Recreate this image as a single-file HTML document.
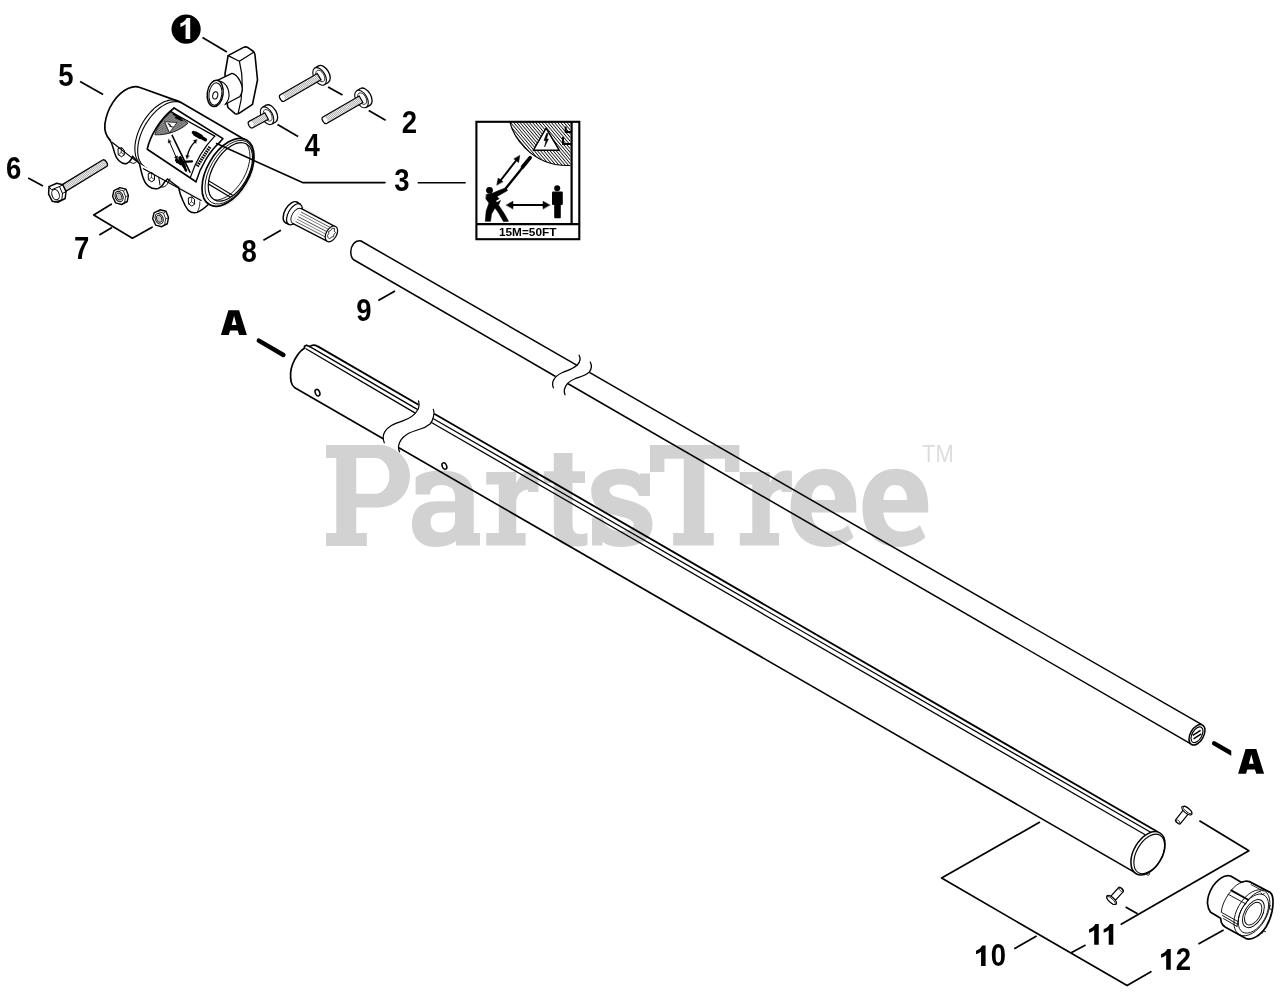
<!DOCTYPE html>
<html><head><meta charset="utf-8"><title>Parts Diagram</title><style>html,body{margin:0;padding:0;background:#fff;}body{width:1280px;height:994px;overflow:hidden;font-family:"Liberation Sans",sans-serif;}svg{display:block;will-change:transform;}</style></head><body><svg width="1280" height="994" viewBox="0 0 1280 994"><g fill="#d2d2d2"><path fill-rule="evenodd" d="M326,445 H379 A31,31.25 0 0 1 379,507.5 H356.25 V533.1 H366.9 V546 H326 V533.1 H336.25 V458.1 H326 Z M356.25,458.1 H375 A14.4,17.8 0 0 1 375,493.75 H356.25 Z"/><path fill-rule="evenodd" d="M415.6,477.5 C421,473 430,470.6 441,470.6 C462,470.6 473.75,480 473.75,497 V533 H480 V545.6 H456 V541 C451,545 444,546.9 435,546.9 C420,546.9 411.9,537 411.9,524 C411.9,509 421,501.25 437,501.25 H455 V497 C455,489 450,485 441,485 C434,485 430,489 430,494.4 H415.6 Z M455,512.5 H441 C434,512.5 430.6,516 430.6,522.5 C430.6,529 435,532.5 441,532.5 C449,532.5 455,528 455,521 Z"/><path transform="translate(0,0)" d="M486.25,471.9 H516.25 V483 C520,475 526,470.5 533,470.5 C535.5,470.5 537,470.8 538.4,471.3 V492 H528 V489.5 C521,490 516.25,495 516.25,503 V533 H525.6 V545.6 H486.25 V533 H498.75 V484.4 H486.25 Z"/><path d="M553.75,453.1 H572.5 V471.25 H585 V483.1 H572.5 V524 C572.5,531 575,534 580,534 C583,534 585,533.75 587.5,533 V545 C584,546 580,546.6 575,546.6 C561,546.6 553.75,540 553.75,527 V483.1 H543.75 V471.25 H553.75 Z"/><path d="M650,473.5 V496 H639 C637,489 631,484.5 621,484.5 C613,484.5 609.5,487 609.5,490.5 C609.5,494 613,496.5 623,499 C642,503.5 652.5,509 652.5,524.5 C652.5,539 640,546.9 621,546.9 C612,546.9 606,545 602.5,541.5 V545.6 H592 V517.5 H602.5 C604,525 610,531 620,531 C629,531 633.75,528.5 633.75,524.5 C633.75,520.5 629,518.5 618,516 C600,512 591.25,505 591.25,491 C591.25,477 603,468.75 620,468.75 C629,468.75 636,471 640,475 V473.5 Z"/><path d="M650,445 H739.4 V471.9 H725 V458.75 H704.4 V533.1 H713.75 V545.6 H673.1 V533.1 H683.75 V458.75 H664.4 V471.9 H650 Z"/><path transform="translate(253.5,0)" d="M486.25,471.9 H516.25 V483 C520,475 526,470.5 533,470.5 C535.5,470.5 537,470.8 538.4,471.3 V492 H528 V489.5 C521,490 516.25,495 516.25,503 V533 H525.6 V545.6 H486.25 V533 H498.75 V484.4 H486.25 Z"/><path transform="translate(0,0)" fill-rule="evenodd" d="M856.25,512.5 H811.5 C812.5,524 819,531.5 830,531.5 C838,531.5 844,529 848,525 L853.5,537 C848,543 838,546.9 826,546.9 C804,546.9 790.6,532 790.6,508 C790.6,484 804,468.75 824,468.75 C844,468.75 856.25,483 856.25,505 Z M811.5,500 H835 C835,491 831,485 823,485 C816,485 812,491 811.5,500 Z"/><path transform="translate(71.9,0)" fill-rule="evenodd" d="M856.25,512.5 H811.5 C812.5,524 819,531.5 830,531.5 C838,531.5 844,529 848,525 L853.5,537 C848,543 838,546.9 826,546.9 C804,546.9 790.6,532 790.6,508 C790.6,484 804,468.75 824,468.75 C844,468.75 856.25,483 856.25,505 Z M811.5,500 H835 C835,491 831,485 823,485 C816,485 812,491 811.5,500 Z"/></g>
<text transform="translate(922,462) scale(0.93,1)" font-size="23.6" fill="#dddddd" font-family="Liberation Sans, sans-serif">TM</text>
<line x1="361" y1="241" x2="577.5" y2="365.531" stroke="#000" stroke-width="1.5" stroke-linecap="butt"/>
<line x1="589.4" y1="372.376" x2="1201.9" y2="724.686" stroke="#000" stroke-width="1.5" stroke-linecap="butt"/>
<line x1="355" y1="260.5" x2="555.6" y2="376.507" stroke="#000" stroke-width="1.5" stroke-linecap="butt"/>
<line x1="568.1" y1="383.736" x2="1191.7" y2="744.364" stroke="#000" stroke-width="1.5" stroke-linecap="butt"/>
<path d="M361,241 C355,239.5 350.5,246 350.8,252.5 C351,257 352.5,259.5 355,260.5" fill="none" stroke="#000" stroke-width="1.5" stroke-linejoin="round" stroke-linecap="round" />
<path d="M579.1,355.3 C581,359 580,362 577.5,364.7 C573,369 567,370.5 562.5,372.5 C558,374.5 554,378 552.8,381.9 C552.3,384 552.6,386 553.4,387.8" fill="none" stroke="#000" stroke-width="1.3" stroke-linejoin="round" stroke-linecap="round" />
<path d="M590.3,362.2 C592.3,366 591.5,369 589.4,371.9 C585,376.2 579,377.2 575,378.75 C571,380.2 566,383.5 564.4,389.4 C564,391.5 564.3,393 565,394.7" fill="none" stroke="#000" stroke-width="1.3" stroke-linejoin="round" stroke-linecap="round" />
<ellipse cx="1197" cy="734.8" rx="11.2" ry="6.6" transform="rotate(-60 1197 734.8)" fill="#fff" stroke="#000" stroke-width="1.5" />
<ellipse cx="1197" cy="734.8" rx="8.6" ry="4.8" transform="rotate(-60 1197 734.8)" fill="none" stroke="#000" stroke-width="1.2" />
<line x1="1192.8" y1="735.3" x2="1200.6" y2="730.4" stroke="#000" stroke-width="1.5" stroke-linecap="butt"/>
<line x1="1193.5" y1="738.8" x2="1201.3" y2="733.9" stroke="#000" stroke-width="1.5" stroke-linecap="butt"/>
<line x1="317.8" y1="346.4" x2="418.5" y2="404.655" stroke="#000" stroke-width="1.8" stroke-linecap="butt"/>
<line x1="309" y1="346.126" x2="417.3" y2="409.372" stroke="#000" stroke-width="1.25" stroke-linecap="butt"/>
<line x1="305.5" y1="348.494" x2="414.9" y2="412.895" stroke="#000" stroke-width="1.25" stroke-linecap="butt"/>
<line x1="294.4" y1="387.5" x2="383.2" y2="438.738" stroke="#000" stroke-width="1.6" stroke-linecap="butt"/>
<line x1="434.2" y1="413.737" x2="1157.5" y2="831.766" stroke="#000" stroke-width="1.8" stroke-linecap="butt"/>
<line x1="433" y1="418.424" x2="1152" y2="833" stroke="#000" stroke-width="1.25" stroke-linecap="butt"/>
<line x1="431" y1="422.196" x2="1145.2" y2="834.789" stroke="#000" stroke-width="1.25" stroke-linecap="butt"/>
<line x1="398.9" y1="447.796" x2="1136.4" y2="873.334" stroke="#000" stroke-width="1.6" stroke-linecap="butt"/>
<path d="M317.8,346.4 C315.5,345 312,344.6 309.6,346.6 L306.5,345.2 L304.5,346.2 L304.5,348 C300,351 295,358 292.4,364.8 C290.5,370 290,376 291.2,382.1 C291.8,384.5 292.8,386 294.4,387.3" fill="none" stroke="#000" stroke-width="1.7" stroke-linejoin="round" stroke-linecap="round" />
<path d="M418.5,400.8 C419.5,404.5 419,408 417.3,410.5 C414,416 409,418.5 404,420.4 C399,422.2 394,424 391.4,425.5 C386,429 383.3,432.5 383.2,437 C383.2,439.5 383.6,441.5 384.3,442.8" fill="none" stroke="#000" stroke-width="1.2" stroke-linejoin="round" stroke-linecap="round" />
<path d="M433.4,409.4 C434.3,412 434.2,414.5 433.4,417 C432.5,420.5 431.5,422.5 430,424 C426.5,427 422.5,428.5 418.9,429.5 C414,431 410,432.5 407.1,434.2 C402,437.5 399,441.5 398.5,446.5 C398.4,448.8 398.8,450.5 399.6,451.8" fill="none" stroke="#000" stroke-width="1.2" stroke-linejoin="round" stroke-linecap="round" />
<ellipse cx="317.5" cy="392.7" rx="3.4" ry="2.2" transform="rotate(68 317.5 392.7)" fill="none" stroke="#000" stroke-width="1.5" />
<ellipse cx="444.4" cy="466" rx="3.4" ry="2.2" transform="rotate(68 444.4 466)" fill="none" stroke="#000" stroke-width="1.5" />
<ellipse cx="1148" cy="853.3" rx="23.6" ry="14.3" transform="rotate(-60 1148 853.3)" fill="#fff" stroke="#000" stroke-width="1.5" />
<ellipse cx="1149.2" cy="853.9" rx="21.6" ry="12.6" transform="rotate(-60 1149.2 853.9)" fill="none" stroke="#000" stroke-width="1.1" />
<path d="M1132.0,869.0 L1134.3,872.6" fill="none" stroke="#000" stroke-width="1" stroke-linejoin="round" stroke-linecap="round" />
<path d="M1146.5,874.3 C1147.5,876 1149.5,875.5 1149.6,873.6" fill="none" stroke="#000" stroke-width="1" stroke-linejoin="round" stroke-linecap="round" />
<path transform="translate(0,0)" fill-rule="evenodd" d="M228.4,310.3 H239.1 L246.9,335 H239.1 L237.75,330.6 H230.1 L228.75,335 H220.9 Z M231.7,325 H236.5 L234.1,315.8 Z"/>
<path transform="translate(1017.2,438.8)" fill-rule="evenodd" d="M228.4,310.3 H239.1 L246.9,335 H239.1 L237.75,330.6 H230.1 L228.75,335 H220.9 Z M231.7,325 H236.5 L234.1,315.8 Z"/>
<line x1="258.8" y1="340.6" x2="283.4" y2="355" stroke="#000" stroke-width="4.4" stroke-linecap="round"/>
<defs><clipPath id="dclip"><rect x="1200" y="730" width="31.25" height="40"/></clipPath></defs>
<line x1="1214.2" y1="743.4" x2="1234" y2="754.8" stroke="#000" stroke-width="4.4" stroke-linecap="round" clip-path="url(#dclip)"/>
<circle cx="186.1" cy="29.1" r="14.6" fill="#000"/>
<path d="M190.20,18.05 L190.20,39.00 L185.56,39.00 L185.56,24.10 C184.02,25.60 182.27,26.50 180.41,26.90 L180.41,23.30 C183.30,22.40 185.46,20.50 186.70,18.05 Z" fill="#fff"/>
<line x1="202.5" y1="37.5" x2="226.9" y2="51.9" stroke="#000" stroke-width="1.7" stroke-linecap="butt"/>
<text transform="translate(66,86.2) scale(0.89,1)" font-size="30.9" font-weight="bold" text-anchor="middle" font-family="Liberation Sans, sans-serif">5</text>
<line x1="80.1" y1="81.5" x2="103.1" y2="94.5" stroke="#000" stroke-width="1.7" stroke-linecap="butt"/>
<text transform="translate(409.4,132.6) scale(0.89,1)" font-size="30.9" font-weight="bold" text-anchor="middle" font-family="Liberation Sans, sans-serif">2</text>
<line x1="328.1" y1="86.9" x2="342.5" y2="95" stroke="#000" stroke-width="1.7" stroke-linecap="butt"/>
<line x1="368.75" y1="110.6" x2="385.6" y2="120.25" stroke="#000" stroke-width="1.7" stroke-linecap="butt"/>
<text transform="translate(312.2,155.7) scale(0.89,1)" font-size="30.9" font-weight="bold" text-anchor="middle" font-family="Liberation Sans, sans-serif">4</text>
<line x1="277.5" y1="124.6" x2="298.1" y2="136.5" stroke="#000" stroke-width="1.7" stroke-linecap="butt"/>
<text transform="translate(401.85,191) scale(0.89,1)" font-size="30.9" font-weight="bold" text-anchor="middle" font-family="Liberation Sans, sans-serif">3</text>
<line x1="417.7" y1="182.7" x2="465.7" y2="182.7" stroke="#000" stroke-width="1.6" stroke-linecap="butt"/>
<text transform="translate(13.7,178.75) scale(0.89,1)" font-size="30.9" font-weight="bold" text-anchor="middle" font-family="Liberation Sans, sans-serif">6</text>
<line x1="28.2" y1="177.9" x2="43" y2="186" stroke="#000" stroke-width="1.7" stroke-linecap="butt"/>
<text transform="translate(81.65,259.4) scale(0.89,1)" font-size="30.9" font-weight="bold" text-anchor="middle" font-family="Liberation Sans, sans-serif">7</text>
<path d="M111.3,204.2 L93.7,214.9 L132.4,238.2 L152.1,227.2" fill="none" stroke="#000" stroke-width="1.7" stroke-linejoin="round" stroke-linecap="round" />
<line x1="112" y1="227.6" x2="99.3" y2="234.9" stroke="#000" stroke-width="1.7" stroke-linecap="butt"/>
<text transform="translate(249.25,262.2) scale(0.89,1)" font-size="30.9" font-weight="bold" text-anchor="middle" font-family="Liberation Sans, sans-serif">8</text>
<line x1="263.4" y1="240.2" x2="280.9" y2="230.3" stroke="#000" stroke-width="1.7" stroke-linecap="butt"/>
<text transform="translate(363.85,320.8) scale(0.89,1)" font-size="30.9" font-weight="bold" text-anchor="middle" font-family="Liberation Sans, sans-serif">9</text>
<line x1="378.3" y1="300.6" x2="395" y2="290.9" stroke="#000" stroke-width="1.7" stroke-linecap="butt"/>
<path d="M985.60,945.60 L985.60,966.10 L981.06,966.10 L981.06,951.52 C979.55,952.99 977.84,953.87 976.03,954.26 L976.03,950.74 C978.85,949.86 980.96,948.00 982.17,945.60 Z" fill="#000"/>
<text transform="translate(998.3,966.3) scale(0.89,1)" font-size="30.9" font-weight="bold" text-anchor="middle" font-family="Liberation Sans, sans-serif">0</text>
<path d="M1039.5,822.3 L941.6,878.1 L1127.1,985.6 L1150.9,971.7" fill="none" stroke="#000" stroke-width="1.7" stroke-linejoin="round" stroke-linecap="round" />
<line x1="1014.3" y1="948.8" x2="1036.6" y2="936" stroke="#000" stroke-width="1.7" stroke-linecap="butt"/>
<path d="M1098.75,924.00 L1098.75,944.70 L1094.17,944.70 L1094.17,929.98 C1092.64,931.46 1090.91,932.35 1089.08,932.74 L1089.08,929.19 C1091.93,928.30 1094.07,926.42 1095.29,924.00 Z" fill="#000"/>
<path d="M1113.30,924.00 L1113.30,944.70 L1108.72,944.70 L1108.72,929.98 C1107.19,931.46 1105.46,932.35 1103.63,932.74 L1103.63,929.19 C1106.48,928.30 1108.62,926.42 1109.84,924.00 Z" fill="#000"/>
<line x1="1070.7" y1="953" x2="1085.6" y2="945" stroke="#000" stroke-width="1.7" stroke-linecap="butt"/>
<path d="M1199.9,821.1 L1248.9,850.8 L1121.2,924.2" fill="none" stroke="#000" stroke-width="1.7" stroke-linejoin="round" stroke-linecap="round" />
<line x1="1125.6" y1="907" x2="1137.5" y2="913.8" stroke="#000" stroke-width="1.7" stroke-linecap="butt"/>
<path d="M1170.75,949.00 L1170.75,969.70 L1166.17,969.70 L1166.17,954.98 C1164.64,956.46 1162.91,957.35 1161.08,957.74 L1161.08,954.19 C1163.93,953.30 1166.07,951.42 1167.29,949.00 Z" fill="#000"/>
<text transform="translate(1183.3,969.7) scale(0.89,1)" font-size="30.9" font-weight="bold" text-anchor="middle" font-family="Liberation Sans, sans-serif">2</text>
<line x1="1198.4" y1="944.1" x2="1223.6" y2="930.1" stroke="#000" stroke-width="1.7" stroke-linecap="butt"/>
<defs><pattern id="hat" width="2.4" height="2.4" patternUnits="userSpaceOnUse" patternTransform="rotate(-40)"><rect width="2.4" height="2.4" fill="#fff"/><rect width="0.85" height="2.4" fill="#111"/></pattern><clipPath id="cb3"><rect x="476.4" y="121.8" width="94" height="102"/></clipPath></defs>
<rect x="475.4" y="120.8" width="104.9" height="119.4" fill="#fff" stroke="none"/>
<circle cx="567.2" cy="106.1" r="59.4" fill="url(#hat)" stroke="#000" stroke-width="1.2" clip-path="url(#cb3)"/>
<rect x="476.4" y="121.8" width="102.9" height="117.4" fill="none" stroke="#000" stroke-width="2.1"/>
<line x1="571.6" y1="121" x2="571.6" y2="224" stroke="#000" stroke-width="2.2" stroke-linecap="butt"/>
<line x1="476" y1="224.2" x2="580" y2="224.2" stroke="#000" stroke-width="2.2" stroke-linecap="butt"/>
<text x="527.7" y="235.6" font-size="10.8" font-weight="bold" text-anchor="middle" textLength="57.5" lengthAdjust="spacingAndGlyphs" font-family="Liberation Sans, sans-serif">15M=50FT</text>
<path d="M546.1,128.2 L533.4,150.2 L559.2,150.2 Z" fill="#fff" stroke="#000" stroke-width="1.5" stroke-linejoin="round" stroke-linecap="round" />
<path d="M546.6,133.5 L544,140.5 L546,140.5 L544.6,147 L548.4,139 L546.4,139 L548.2,133.5 Z" fill="#000" stroke="#000" stroke-width="0.6" stroke-linejoin="round" stroke-linecap="round" />
<path d="M565.7,127.6 V132 H570.4 M563,137.8 V143.9 H570.4" fill="none" stroke="#000" stroke-width="2" stroke-linejoin="round" stroke-linecap="round" />
<line x1="504.5" y1="190" x2="529.8" y2="158.5" stroke="#000" stroke-width="2.4" stroke-linecap="round"/>
<line x1="522.5" y1="167" x2="530.2" y2="157.6" stroke="#000" stroke-width="3.6" stroke-linecap="round"/>
<line x1="500.5" y1="180.5" x2="516.5" y2="160" stroke="#000" stroke-width="2" stroke-linecap="butt"/>
<path d="M519.8,155.6 L518.6,162.6 L514,159 Z" fill="#000" stroke="#000" stroke-width="0.5" stroke-linejoin="round" stroke-linecap="round" />
<path d="M496.8,184.9 L498.2,178 L502.8,181.6 Z" fill="#000" stroke="#000" stroke-width="0.5" stroke-linejoin="round" stroke-linecap="round" />
<line x1="510" y1="205" x2="546" y2="205" stroke="#000" stroke-width="2" stroke-linecap="butt"/>
<path d="M506.3,205 L513,201.2 V208.8 Z" fill="#000" stroke="#000" stroke-width="0.5" stroke-linejoin="round" stroke-linecap="round" />
<path d="M549.8,205 L543,201.2 V208.8 Z" fill="#000" stroke="#000" stroke-width="0.5" stroke-linejoin="round" stroke-linecap="round" />
<circle cx="557.2" cy="188.3" r="3.0" fill="#000"/>
<rect x="552" y="191.6" width="10.8" height="13.4" rx="1.2" fill="#000"/>
<rect x="554.2" y="200" width="6.6" height="18.2" rx="1" fill="#000"/>
<circle cx="489.5" cy="190.3" r="3.4" fill="#000"/>
<path d="M486.5,194.5 L493,193 L500,190 L506,187.8 L507.5,190.5 L497,196.5 L500.5,200.5 L498.5,205 L504.5,214 L508.5,221.3 L503.5,221.6 L498,212 L495,208 L491.5,214 L490.5,221.3 L485.3,221.3 L486.2,211 L489,203 L486,199 Z" fill="#000" stroke="#000" stroke-width="0.6" stroke-linejoin="round" stroke-linecap="round" />
<path d="M496.5,201.5 L500,199.5" stroke="#fff" stroke-width="1.6" fill="none"/>
<defs><pattern id="thr" width="1.55" height="4" patternUnits="userSpaceOnUse" patternTransform="rotate(-12)"><rect width="1.55" height="4" fill="#fff"/><rect width="0.42" height="4" fill="#505050"/></pattern></defs>
<ellipse cx="323.4" cy="74.2" rx="9.6" ry="5.6" transform="rotate(59.9863 323.4 74.2)" fill="#fff" stroke="#000" stroke-width="1.3" />
<path d="M324.392,84.7136 L328.202,82.5127 L318.598,65.8873 L314.788,68.0882 Z" fill="#fff" stroke="none"/>
<line x1="324.392" y1="84.7136" x2="328.202" y2="82.5127" stroke="#000" stroke-width="1.3" stroke-linecap="butt"/>
<line x1="314.788" y1="68.0882" x2="318.598" y2="65.8873" stroke="#000" stroke-width="1.3" stroke-linecap="butt"/>
<ellipse cx="319.59" cy="76.4009" rx="9.6" ry="5.6" transform="rotate(59.9863 319.59 76.4009)" fill="#fff" stroke="#000" stroke-width="1.1" />
<ellipse cx="320.283" cy="76.0007" rx="6.336" ry="3.696" transform="rotate(59.9863 320.283 76.0007)" fill="none" stroke="#000" stroke-width="0.7" />
<g transform="translate(282.2,98) rotate(-30.0137)">
<path d="M0,-3.7 H42.6802 V3.7 H0 A2.22,3.7 0 0 1 0,-3.7 Z" fill="url(#thr)" stroke="#000" stroke-width="1.2"/>
<ellipse cx="0.6" cy="0" rx="1.776" ry="2.9" fill="#fff" stroke="none"/>
</g>
<ellipse cx="365.3" cy="96.8" rx="9.6" ry="5.6" transform="rotate(59.9816 365.3 96.8)" fill="#fff" stroke="#000" stroke-width="1.3" />
<path d="M366.293,107.314 L370.103,105.112 L360.497,88.4877 L356.688,90.6889 Z" fill="#fff" stroke="none"/>
<line x1="366.293" y1="107.314" x2="370.103" y2="105.112" stroke="#000" stroke-width="1.3" stroke-linecap="butt"/>
<line x1="356.688" y1="90.6889" x2="360.497" y2="88.4877" stroke="#000" stroke-width="1.3" stroke-linecap="butt"/>
<ellipse cx="361.49" cy="99.0012" rx="9.6" ry="5.6" transform="rotate(59.9816 361.49 99.0012)" fill="#fff" stroke="#000" stroke-width="1.1" />
<ellipse cx="362.183" cy="98.601" rx="6.336" ry="3.696" transform="rotate(59.9816 362.183 98.601)" fill="none" stroke="#000" stroke-width="0.7" />
<g transform="translate(324.8,120.2) rotate(-30.0184)">
<path d="M0,-3.7 H41.874 V3.7 H0 A2.22,3.7 0 0 1 0,-3.7 Z" fill="url(#thr)" stroke="#000" stroke-width="1.2"/>
<ellipse cx="0.6" cy="0" rx="1.776" ry="2.9" fill="#fff" stroke="none"/>
</g>
<ellipse cx="270.9" cy="113.6" rx="9.6" ry="5.6" transform="rotate(61.1892 270.9 113.6)" fill="#fff" stroke="#000" stroke-width="1.3" />
<path d="M271.671,124.132 L275.526,122.012 L266.274,105.188 L262.418,107.309 Z" fill="#fff" stroke="none"/>
<line x1="271.671" y1="124.132" x2="275.526" y2="122.012" stroke="#000" stroke-width="1.3" stroke-linecap="butt"/>
<line x1="262.418" y1="107.309" x2="266.274" y2="105.188" stroke="#000" stroke-width="1.3" stroke-linecap="butt"/>
<ellipse cx="267.045" cy="115.72" rx="9.6" ry="5.6" transform="rotate(61.1892 267.045 115.72)" fill="#fff" stroke="#000" stroke-width="1.1" />
<ellipse cx="267.746" cy="115.335" rx="6.336" ry="3.696" transform="rotate(61.1892 267.746 115.335)" fill="none" stroke="#000" stroke-width="0.7" />
<g transform="translate(250.9,124.6) rotate(-28.8108)">
<path d="M0,-3.7 H17.9254 V3.7 H0 A2.22,3.7 0 0 1 0,-3.7 Z" fill="url(#thr)" stroke="#000" stroke-width="1.2"/>
<ellipse cx="0.6" cy="0" rx="1.776" ry="2.9" fill="#fff" stroke="none"/>
</g>
<g transform="translate(56.3,192.7) rotate(-31.3287)">
<path d="M6,-3.8 H56.5442 A2.28,3.8 0 0 1 56.5442,3.8 H6 Z" fill="url(#thr)" stroke="#000" stroke-width="1.3"/>
</g>
<path d="M49,186.6 L56.8,183.2 L62.8,184.8 L66,191.5 L65.2,198.5 L58.2,202.2 L52.2,201.2 L48.6,194.2 Z" fill="#fff" stroke="#000" stroke-width="1.5" stroke-linejoin="round" stroke-linecap="round" />
<path d="M62.8,184.8 L59.5,186.5 L51.5,189.8 L49,186.6 M59.5,186.5 L62.5,193.5 L61.8,199.8 L58.2,202.2 M61.8,199.8 L54.5,202 M66,191.5 L62.5,193.5" fill="none" stroke="#000" stroke-width="1" stroke-linejoin="round" stroke-linecap="round" />
<ellipse cx="55.6" cy="194.6" rx="5.3" ry="3.6" transform="rotate(70 55.6 194.6)" fill="none" stroke="#000" stroke-width="1" />
<g transform="translate(120.4,195.9)">
<path d="M-6.5,-5.2 L-0.5,-8.3 L5.5,-6.8 L8,-0.5 L6.8,5.8 L1.2,8.6 L-4.8,7 L-7.8,0.6 Z" fill="#fff" stroke="#000" stroke-width="1.4" stroke-linejoin="round"/>
<path d="M5.5,-6.8 L3,-5 L5.2,0.8 L4.2,6.2 L6.8,5.8 M5.2,0.8 L8,-0.5 M3,-5 L-2.5,-6.5 M4.2,6.2 L1.2,8.6" fill="none" stroke="#000" stroke-width="0.8"/>
<ellipse cx="-1.3" cy="0.6" rx="5.4" ry="3.9" transform="rotate(68 -1.3 0.6)" fill="#fff" stroke="#000" stroke-width="0.9"/>
<ellipse cx="-1.3" cy="0.6" rx="3.8" ry="2.6" transform="rotate(68 -1.3 0.6)" fill="#c8c8c8" stroke="#000" stroke-width="0.8"/>
</g>
<g transform="translate(160.5,218.1)">
<path d="M-6.5,-5.2 L-0.5,-8.3 L5.5,-6.8 L8,-0.5 L6.8,5.8 L1.2,8.6 L-4.8,7 L-7.8,0.6 Z" fill="#fff" stroke="#000" stroke-width="1.4" stroke-linejoin="round"/>
<path d="M5.5,-6.8 L3,-5 L5.2,0.8 L4.2,6.2 L6.8,5.8 M5.2,0.8 L8,-0.5 M3,-5 L-2.5,-6.5 M4.2,6.2 L1.2,8.6" fill="none" stroke="#000" stroke-width="0.8"/>
<ellipse cx="-1.3" cy="0.6" rx="5.4" ry="3.9" transform="rotate(68 -1.3 0.6)" fill="#fff" stroke="#000" stroke-width="0.9"/>
<ellipse cx="-1.3" cy="0.6" rx="3.8" ry="2.6" transform="rotate(68 -1.3 0.6)" fill="#c8c8c8" stroke="#000" stroke-width="0.8"/>
</g>
<path d="M137,87.2 L140,87.5 L179.3,101.6 L246.7,140.8 C258,150 256,170 246,187 C236,203 221,210.5 209.8,204.7 L142.4,165.5 L110.2,140.4 C104,134 103.5,122 108,110 C113,97 125,86 137,87.2 Z" fill="#fff" stroke="#000" stroke-width="0.1" stroke-linejoin="round" stroke-linecap="round" />
<path d="M246.7,140.8 L179.3,101.6 L140,87.5 C137,86.3 133,86.3 128,88.5 C117,93.5 107,108 104.9,124 C104.2,131 106.5,136.5 110.2,140.4" fill="none" stroke="#000" stroke-width="1.7" stroke-linejoin="round" stroke-linecap="round" />
<path d="M177.7,100.8 L176.1,100.3 L174.3,100.0 L172.5,99.9 L170.7,100.0 L168.7,100.4 L166.8,100.9 L164.7,101.6 L162.7,102.6 L160.6,103.7 L158.6,105.0 L156.5,106.5 L154.5,108.2 L152.6,110.0 L150.6,112.0 L148.8,114.1 L147.0,116.3 L145.3,118.6 L143.7,121.0 L142.2,123.5 L140.9,126.1 L139.6,128.7 L138.5,131.4 L137.5,134.0 L136.7,136.7 L136.0,139.3 L135.5,141.9 L135.1,144.5 L134.9,146.9 L134.9,149.3 L135.0,151.6 L135.3,153.8 L135.7,155.9 L136.3,157.8 L137.1,159.6 L138.0,161.2 L139.0,162.6 L140.2,163.9 L141.5,164.9 L142.9,165.8 L144.5,166.5" fill="none" stroke="#000" stroke-width="1.1" stroke-linejoin="round" stroke-linecap="round" />
<path d="M181.2,102.8 L179.6,102.2 L177.9,101.8 L176.1,101.6 L174.3,101.7 L172.4,101.9 L170.4,102.3 L168.4,103.0 L166.4,103.8 L164.3,104.9 L162.3,106.1 L160.2,107.5 L158.2,109.1 L156.2,110.9 L154.3,112.8 L152.4,114.8 L150.6,117.0 L148.9,119.3 L147.2,121.7 L145.7,124.1 L144.2,126.7 L142.9,129.3 L141.8,131.9 L140.7,134.6 L139.8,137.2 L139.1,139.9 L138.5,142.5 L138.1,145.0 L137.8,147.6 L137.7,150.0 L137.7,152.3 L137.9,154.6 L138.3,156.7 L138.8,158.7 L139.5,160.5 L140.4,162.2 L141.3,163.7 L142.5,165.0 L143.7,166.2 L145.1,167.2 L146.6,167.9" fill="none" stroke="#000" stroke-width="1.1" stroke-linejoin="round" stroke-linecap="round" />
<path d="M110.2,140.4 C112,143.5 112.6,146 113.6,149.4 C115,155.5 116.5,158.5 119,160.8 C122,163.6 125,164.2 127.2,163.2 C130,161.8 131.5,159.5 132.5,156.2" fill="#fff" stroke="#000" stroke-width="1.5" stroke-linejoin="round" stroke-linecap="round" />
<path d="M129.5,161.5 C131.5,163.5 133.5,163.8 135.5,162.6 L138.2,160.2" fill="none" stroke="#000" stroke-width="1" stroke-linejoin="round" stroke-linecap="round" />
<path d="M118.4,148.6 L121.6,147.6 L124.2,150.0 L124.3,154.8 L121.6,156.8 L118.5,154.8 Z" fill="#fff" stroke="#000" stroke-width="1" stroke-linejoin="round" stroke-linecap="round" />
<path d="M121.6,147.6 L121.2,152.4 L118.5,154.8 M121.2,152.4 L124.3,154.8" fill="none" stroke="#000" stroke-width="0.7" stroke-linejoin="round" stroke-linecap="round" />
<path d="M139.5,163.8 C140.5,168 141.2,172 142.5,176 C144,181 146,184.5 148.75,186.3 C152,188.6 155.5,189 158.1,188.4 C161,187.6 163,185 164.4,182.2 L167.5,179" fill="#fff" stroke="#000" stroke-width="1.5" stroke-linejoin="round" stroke-linecap="round" />
<path d="M158.8,177.5 L160,185 M161.5,187 C164,187.6 166.5,186 168.1,182.6 L170,178.8" fill="none" stroke="#000" stroke-width="1" stroke-linejoin="round" stroke-linecap="round" />
<path d="M148.6,173.6 L151.8,172.6 L154.4,175.0 L154.5,179.8 L151.8,181.8 L148.7,179.8 Z" fill="#fff" stroke="#000" stroke-width="1" stroke-linejoin="round" stroke-linecap="round" />
<path d="M151.8,172.6 L151.4,177.4 L148.7,179.8 M151.4,177.4 L154.5,179.8" fill="none" stroke="#000" stroke-width="0.7" stroke-linejoin="round" stroke-linecap="round" />
<path d="M178.6,187.5 C179.5,192 180.5,196 182.7,200.2 C184.5,204.5 186,207.5 188.1,210.1 C191,212.8 194.5,213.2 197.2,212.4 C201,210.8 205,207.5 208,204.7" fill="#fff" stroke="#000" stroke-width="1.5" stroke-linejoin="round" stroke-linecap="round" />
<path d="M188.7,197.9 L191.9,196.9 L194.5,199.3 L194.6,204.1 L191.9,206.1 L188.8,204.1 Z" fill="#fff" stroke="#000" stroke-width="1" stroke-linejoin="round" stroke-linecap="round" />
<path d="M191.9,196.9 L191.5,201.7 L188.8,204.1 M191.5,201.7 L194.6,204.1" fill="none" stroke="#000" stroke-width="0.7" stroke-linejoin="round" stroke-linecap="round" />
<path d="M197.2,212.4 C199.5,208 200,205 199.8,202" fill="none" stroke="#000" stroke-width="0.8" stroke-linejoin="round" stroke-linecap="round" />
<line x1="132.5" y1="156.2" x2="139.5" y2="163.8" stroke="#000" stroke-width="1.4" stroke-linecap="butt"/>
<line x1="167.5" y1="179" x2="178.6" y2="187.5" stroke="#000" stroke-width="1.5" stroke-linecap="butt"/>
<line x1="143" y1="168.5" x2="201.5" y2="200.8" stroke="#000" stroke-width="1.3" stroke-linecap="butt"/>
<line x1="112" y1="142.2" x2="136.5" y2="161.4" stroke="#000" stroke-width="1.2" stroke-linecap="butt"/>
<defs><clipPath id="lab5"><path d="M174.1,108 L222.25,138 L219,142.5 C209,151 200,166 196,181.75 L147.25,149.25 C150,136 160,119 174.1,108 Z"/></clipPath></defs>
<defs><pattern id="hat2" width="1.6" height="1.6" patternUnits="userSpaceOnUse" patternTransform="rotate(28)"><rect width="1.6" height="1.6" fill="#9a9a9a"/><rect width="1.6" height="0.7" fill="#5a5a5a"/></pattern></defs>
<path d="M171.5,111.5 L188,123.2 C181,130 168,135.5 154.8,134.8 C157.5,126 163.5,117.5 171.5,111.5 Z" fill="url(#hat2)" stroke="#000" stroke-width="0.8" stroke-linejoin="round" stroke-linecap="round" />
<path d="M165,121.8 L177,122.5 L169.6,132.4 Z" fill="#fff" stroke="#000" stroke-width="0.7" stroke-linejoin="round" stroke-linecap="round" />
<path d="M168.2,123.6 L170.4,125.2 L169.8,126 L172.4,127" fill="none" stroke="#000" stroke-width="1.1" stroke-linejoin="round" stroke-linecap="round" />
<path d="M173.4,114.4 L180.6,118.2 M175.6,117.6 L182,120.4" fill="none" stroke="#000" stroke-width="1.6" stroke-linejoin="round" stroke-linecap="round" />
<path d="M174.1,108 L222.25,138 L219.4,142.2 L216.2,135.9" fill="none" stroke="#000" stroke-width="0.1" stroke-linejoin="round" stroke-linecap="round" />
<path d="M174.1,108 C160,119 150,136 147.25,149.25 L196,181.75" fill="none" stroke="#000" stroke-width="1.6" stroke-linejoin="round" stroke-linecap="round" />
<path d="M174.1,108 L223,138.6 L219.6,142.4" fill="none" stroke="#000" stroke-width="1.5" stroke-linejoin="round" stroke-linecap="round" />
<path d="M171,111.75 L214.75,136.1" fill="none" stroke="#000" stroke-width="1.3" stroke-linejoin="round" stroke-linecap="round" />
<path d="M214.75,136.1 C205,146 196,160 190.4,177.4" fill="none" stroke="#000" stroke-width="1.3" stroke-linejoin="round" stroke-linecap="round" />
<path d="M219.6,142.4 C210,151 200.5,166 196,181.75" fill="none" stroke="#000" stroke-width="1.5" stroke-linejoin="round" stroke-linecap="round" />
<path d="M172.2,135.5 L189.9,172" fill="none" stroke="#000" stroke-width="1.7" stroke-linejoin="round" stroke-linecap="round" />
<path d="M169.3,141.4 L176.3,157.6" fill="none" stroke="#000" stroke-width="1" stroke-linejoin="round" stroke-linecap="round" />
<path d="M177.2,159.6 L177.6,155.8 L174.6,157.2 Z" fill="#000" stroke="#000" stroke-width="0.4" stroke-linejoin="round" stroke-linecap="round" />
<path d="M168.5,139.4 L168.2,143 L171,141.8 Z" fill="#000" stroke="#000" stroke-width="0.4" stroke-linejoin="round" stroke-linecap="round" />
<path d="M177,162.2 L192,161.4" fill="none" stroke="#000" stroke-width="2.2" stroke-linejoin="round" stroke-linecap="round" />
<path d="M180,158 L184,166" fill="none" stroke="#000" stroke-width="3.6" stroke-linejoin="round" stroke-linecap="round" />
<path d="M176.6,160.2 L181,163.6" fill="none" stroke="#000" stroke-width="3.4" stroke-linejoin="round" stroke-linecap="round" />
<path d="M183,164 L186,170.5" fill="none" stroke="#000" stroke-width="2.6" stroke-linejoin="round" stroke-linecap="round" />
<path d="M187.2,156.6 C188.5,150 191.5,144.8 195.6,141.2" fill="none" stroke="#000" stroke-width="1.3" stroke-linejoin="round" stroke-linecap="round" />
<path d="M196.8,139.6 L193.4,140.6 L195.8,143.2 Z" fill="#000" stroke="#000" stroke-width="0.4" stroke-linejoin="round" stroke-linecap="round" />
<path d="M186.8,158.8 L185.8,155.2 L189,155.8 Z" fill="#000" stroke="#000" stroke-width="0.4" stroke-linejoin="round" stroke-linecap="round" />
<path d="M193.4,132.6 L205.4,139.8" fill="none" stroke="#000" stroke-width="3.4" stroke-linejoin="round" stroke-linecap="round" />
<path d="M195.6,133.8 L200.4,136.6" fill="none" stroke="#000" stroke-width="5" stroke-linejoin="round" stroke-linecap="round" />
<path d="M197.2,166.2 L210.2,146.4" stroke="#000" stroke-width="3.4" stroke-dasharray="1.5 0.9" fill="none"/>
<ellipse cx="228" cy="172.3" rx="37.2" ry="21" transform="rotate(-60 228 172.3)" fill="#fff" stroke="#000" stroke-width="1.7" />
<ellipse cx="229.2" cy="172.2" rx="35" ry="19.3" transform="rotate(-60 229.2 172.2)" fill="none" stroke="#000" stroke-width="0.8" />
<ellipse cx="230.4" cy="171.9" rx="32.2" ry="17.6" transform="rotate(-60 230.4 171.9)" fill="none" stroke="#000" stroke-width="1.2" />
<defs><clipPath id="bore"><ellipse cx="230.4" cy="171.9" rx="32.2" ry="17.6" transform="rotate(-60 230.4 171.9)"/></clipPath></defs>
<g clip-path="url(#bore)">
<ellipse cx="227" cy="170" rx="33" ry="18.4" transform="rotate(-60 227 170)" fill="none" stroke="#000" stroke-width="0.8" />
<line x1="205" y1="178.6" x2="235" y2="196.7" stroke="#000" stroke-width="1.2" stroke-linecap="butt"/>
<line x1="204" y1="181.3" x2="233" y2="198.8" stroke="#000" stroke-width="1.2" stroke-linecap="butt"/>
</g>
<path d="M216.6,143.6 L302.5,182.6 H385" fill="none" stroke="#000" stroke-width="1.6" stroke-linejoin="round" stroke-linecap="round" />
<path d="M228.1,55.6 L243.5,47.4 C245,46.6 246.5,46.7 248,47.6 L253.1,51.25 C254.3,52.2 254.8,53.4 255,55 L257.5,80 L252.5,104.4 L239,113.4 C237.5,114.2 236,114.2 235,113.6 L228.5,108 C227.3,106.5 227.2,105 227.4,103 L225,73.75 Z" fill="#fff" stroke="#000" stroke-width="1.6" stroke-linejoin="round" stroke-linecap="round" />
<path d="M228.1,55.6 L239.4,61.25 L253.6,52.2" fill="none" stroke="#000" stroke-width="1.2" stroke-linejoin="round" stroke-linecap="round" />
<path d="M239.4,61.25 C243.2,76 243.2,95 238.2,113.2" fill="none" stroke="#000" stroke-width="1.2" stroke-linejoin="round" stroke-linecap="round" />
<path d="M216.9,80.6 L231.9,73.4 C235,74 238,77 240,81 C242.3,85.5 242.6,91 241.25,93.75 L240,96.5 L226.25,103.75 L215,106.5 Z" fill="#fff" stroke="#000" stroke-width="0.1" stroke-linejoin="round" stroke-linecap="round" />
<path d="M216.9,80.6 L231.9,73.4 C235,74 238,77 240,81 C242.3,85.5 242.6,91 241.25,93.75 L240,96.5 L226.25,103.75" fill="none" stroke="#000" stroke-width="1.3" stroke-linejoin="round" stroke-linecap="round" />
<path d="M218.75,81.0 C222.5,81.5 226.25,84.5 228,89 C229.6,93.5 229,98.5 227.3,101.6 L225,104.75" fill="none" stroke="#000" stroke-width="1.1" stroke-linejoin="round" stroke-linecap="round" />
<ellipse cx="215.2" cy="93.4" rx="7.9" ry="13.2" transform="rotate(8 215.2 93.4)" fill="#fff" stroke="#000" stroke-width="1.5" />
<ellipse cx="215.4" cy="94" rx="6.4" ry="11.2" transform="rotate(8 215.4 94)" fill="none" stroke="#000" stroke-width="1" />
<ellipse cx="215.25" cy="95.4" rx="2.5" ry="3.7" transform="rotate(12 215.25 95.4)" fill="none" stroke="#000" stroke-width="1" />
<path d="M303.3,207.3 L336.1,226.9 L326.7,240.9 L292.3,222.2 Z" fill="#fff" stroke="#000" stroke-width="0.1" stroke-linejoin="round" stroke-linecap="round" />
<ellipse cx="291.2" cy="212.4" rx="11.8" ry="6.4" transform="rotate(-60 291.2 212.4)" fill="#fff" stroke="#000" stroke-width="1.4" />
<ellipse cx="294.4" cy="214.3" rx="11.6" ry="6.2" transform="rotate(-60 294.4 214.3)" fill="#fff" stroke="#000" stroke-width="1.2" />
<path d="M285.4,222.7 L288.6,224.6 M297.0,202.1 L300.2,204.0" fill="none" stroke="#000" stroke-width="1.2" stroke-linejoin="round" stroke-linecap="round" />
<ellipse cx="296.8" cy="216" rx="8.4" ry="4.8" transform="rotate(-60 296.8 216)" fill="#fff" stroke="#000" stroke-width="0.9" />
<path d="M301,208.7 L336.1,226.9 L326.7,240.9 L292.6,223.3 Z" fill="#fff" stroke="#000" stroke-width="0.1" stroke-linejoin="round" stroke-linecap="round" />
<line x1="301" y1="208.4" x2="335.6" y2="226.9" stroke="#000" stroke-width="1.3" stroke-linecap="butt"/>
<line x1="292.6" y1="223.3" x2="327" y2="241.1" stroke="#000" stroke-width="1.3" stroke-linecap="butt"/>
<line x1="300.988" y1="211.982" x2="334.052" y2="229.456" stroke="#333" stroke-width="0.8" stroke-linecap="butt"/>
<line x1="299.728" y1="214.217" x2="332.762" y2="231.586" stroke="#333" stroke-width="0.6" stroke-linecap="butt"/>
<line x1="298.3" y1="216.75" x2="331.3" y2="234" stroke="#333" stroke-width="0.9" stroke-linecap="butt"/>
<line x1="296.956" y1="219.134" x2="329.924" y2="236.272" stroke="#333" stroke-width="0.6" stroke-linecap="butt"/>
<line x1="295.612" y1="221.518" x2="328.548" y2="238.544" stroke="#333" stroke-width="0.8" stroke-linecap="butt"/>
<ellipse cx="331.4" cy="233.9" rx="8.6" ry="5.2" transform="rotate(-60 331.4 233.9)" fill="#fff" stroke="#000" stroke-width="1.2" />
<path d="M334.6,228.8 L334.2,231 L335.6,232.6 L334,234.2 L333.6,236.6 L331.2,237.2 L329.6,239 L328.2,237.6 L327.4,235.6 L328.8,233.6 L328.6,231.4 L330.6,230.6 L332,228.6 Z" fill="none" stroke="#000" stroke-width="0.8" stroke-linejoin="round" stroke-linecap="round" />
<g transform="translate(1186.9,810.6) rotate(128.472)">
<path d="M1,-3.1 H14.3056 A1.4,3.1 0 0 1 14.3056,3.1 H1 Z" fill="#fff" stroke="#000" stroke-width="1.2"/>
<ellipse cx="14.1056" cy="0" rx="1.1" ry="2.2" fill="none" stroke="#000" stroke-width="0.7"/>
<ellipse cx="0" cy="0" rx="2.6" ry="6.2" fill="#fff" stroke="#000" stroke-width="1.2"/>
<ellipse cx="-0.9" cy="0" rx="2.0" ry="5.4" fill="none" stroke="#000" stroke-width="0.8"/>
</g>
<g transform="translate(1111.6,899.9) rotate(-47.6158)">
<path d="M1,-3.1 H13.9445 A1.4,3.1 0 0 1 13.9445,3.1 H1 Z" fill="#fff" stroke="#000" stroke-width="1.2"/>
<ellipse cx="13.7445" cy="0" rx="1.1" ry="2.2" fill="none" stroke="#000" stroke-width="0.7"/>
<ellipse cx="0" cy="0" rx="2.6" ry="6.2" fill="#fff" stroke="#000" stroke-width="1.2"/>
<ellipse cx="-0.9" cy="0" rx="2.0" ry="5.4" fill="none" stroke="#000" stroke-width="0.8"/>
</g>
<path d="M1241.25,882.25 L1230.6,876 C1227,874.8 1224,876 1221.25,877.9 C1217,881 1214,884 1211.9,887.9 C1209,893 1207.3,898 1207.5,903.5 C1207.8,907 1208.8,910 1210.6,912.25 L1220.6,918.2 C1221,920 1221,921 1221.25,922.25 C1222,924.5 1223.5,926 1225.5,927.2 L1246,938.6 C1252,940.5 1260,936 1266,927 C1272,917 1274,905 1272.6,897 C1272.2,895 1271.4,893.4 1270,892.25 L1249.4,881.6 C1247.5,881 1246,881 1245,881.3 Z" fill="#fff" stroke="#000" stroke-width="1.7" stroke-linejoin="round" stroke-linecap="round" />
<path d="M1231.25,890.4 L1248.1,899.75" fill="none" stroke="#000" stroke-width="1.8" stroke-linejoin="round" stroke-linecap="round" />
<path d="M1231.25,890.4 C1234,886.5 1238,883.5 1243,881.8" fill="none" stroke="#000" stroke-width="0.9" stroke-linejoin="round" stroke-linecap="round" />
<path d="M1248.1,899.75 C1251,896 1255,893 1260.6,891" fill="none" stroke="#000" stroke-width="0.9" stroke-linejoin="round" stroke-linecap="round" />
<path d="M1249.8,882.2 L1268.5,892.2 M1251,884.6 L1263,891" fill="none" stroke="#000" stroke-width="0.8" stroke-linejoin="round" stroke-linecap="round" />
<path d="M1228.4,894.4 L1245.6,903.8" fill="none" stroke="#000" stroke-width="0.9" stroke-linejoin="round" stroke-linecap="round" />
<path d="M1228.4,894.4 C1224.5,900 1221.8,906 1221.25,912.25 L1238.1,921.6" fill="none" stroke="#000" stroke-width="0.9" stroke-linejoin="round" stroke-linecap="round" />
<path d="M1230.5,891.8 L1228.4,894.4" fill="none" stroke="#000" stroke-width="0.9" stroke-linejoin="round" stroke-linecap="round" />
<path d="M1245.6,903.8 L1248.1,899.75" fill="none" stroke="#000" stroke-width="0.9" stroke-linejoin="round" stroke-linecap="round" />
<path d="M1222.5,915.5 L1237.5,924.2 M1223.5,918.6 L1237,926.4 M1238.1,921.6 L1237,926.4" fill="none" stroke="#000" stroke-width="0.9" stroke-linejoin="round" stroke-linecap="round" />
<path d="M1238.1,921.6 C1238.5,915 1241,908.5 1245.6,903.8" fill="none" stroke="#000" stroke-width="0.9" stroke-linejoin="round" stroke-linecap="round" />
<path d="M1261,892.8 L1262.2,894.6 L1264.2,893.6" fill="none" stroke="#000" stroke-width="0.8" stroke-linejoin="round" stroke-linecap="round" />
<ellipse cx="1251.9" cy="912.8" rx="25.2" ry="14.8" transform="rotate(-60 1251.9 912.8)" fill="none" stroke="#000" stroke-width="0.8" />
<ellipse cx="1253.4" cy="913.6" rx="21.4" ry="12.4" transform="rotate(-60 1253.4 913.6)" fill="none" stroke="#000" stroke-width="0.8" />
<ellipse cx="1253.4" cy="913.6" rx="15.4" ry="8.9" transform="rotate(-60 1253.4 913.6)" fill="none" stroke="#000" stroke-width="0.9" />
<ellipse cx="1253.2" cy="913.6" rx="12.4" ry="7" transform="rotate(-60 1253.2 913.6)" fill="none" stroke="#000" stroke-width="0.9" />
<path d="M1270.8,905.5 L1269.2,906.8 L1269.8,909 L1271.5,909.4" fill="none" stroke="#000" stroke-width="0.9" stroke-linejoin="round" stroke-linecap="round" />
<path d="M1262,933.5 L1263.5,931 L1265.5,931.6" fill="none" stroke="#000" stroke-width="0.9" stroke-linejoin="round" stroke-linecap="round" /></svg></body></html>
